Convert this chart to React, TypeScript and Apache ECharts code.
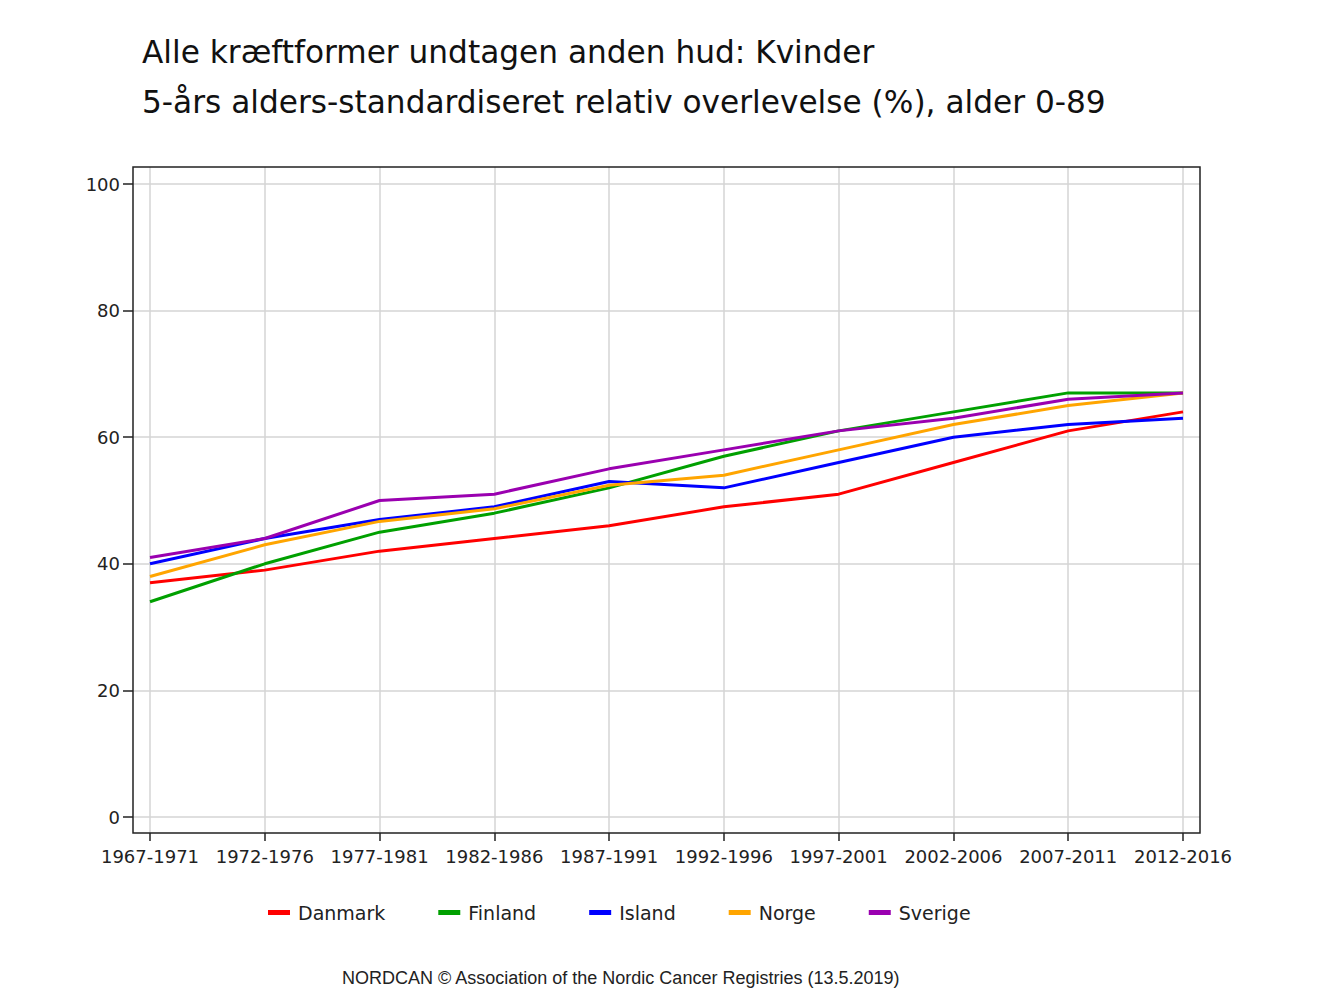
import React, { useEffect, useRef } from "react";
import * as echarts from "echarts";

const categories = [
  "1967-1971", "1972-1976", "1977-1981", "1982-1986", "1987-1991",
  "1992-1996", "1997-2001", "2002-2006", "2007-2011", "2012-2016",
];
const danmark = [37, 39, 42, 44, 46, 49, 51, 56, 61, 64];
const finland = [34, 40, 45, 48, 52, 57, 61, 64, 67, 67];
const island = [40, 44, 47, 49, 53, 52, 56, 60, 62, 63];
const norge = [38, 43, 46.7, 48.7, 52.4, 54, 58, 62, 65, 67];
const sverige = [41, 44, 50, 51, 55, 58, 61, 63, 66, 67];
const yTicks = { min: 0, max: 100, interval: 20 };

const seriesDefs = [
  { name: "Danmark", data: danmark, color: "#ff0000" },
  { name: "Finland", data: finland, color: "#00a000" },
  { name: "Island", data: island, color: "#0000ff" },
  { name: "Norge", data: norge, color: "#ffa500" },
  { name: "Sverige", data: sverige, color: "#9a00b0" },
];

const FONT = "DejaVu Sans";
const TXT = "#222";
const GRIDLINE = "#d4d4d4";

export default function App() {
  const ref = useRef<HTMLDivElement>(null);
  useEffect(() => {
    document.body.style.margin = "0";
    const chart = echarts.init(ref.current!, null, { renderer: "svg" });
    chart.setOption({
      animation: false,
      backgroundColor: "#fff",
      title: [
        {
          text:
            "Alle kræftformer undtagen anden hud: Kvinder\n5-års alders-standardiseret relativ overlevelse (%), alder 0-89",
          left: 137,
          top: 22,
          textStyle: {
            fontFamily: FONT,
            fontSize: 31.2,
            fontWeight: "normal",
            color: "#111",
            lineHeight: 50,
          },
        },
        {
          text: "NORDCAN © Association of the Nordic Cancer Registries (13.5.2019)",
          left: 337,
          top: 964,
          textStyle: {
            fontFamily: "Liberation Sans",
            fontSize: 18,
            fontWeight: "normal",
            color: TXT,
          },
        },
      ],
      legend: {
        left: 268,
        top: 903,
        padding: 0,
        itemWidth: 22,
        itemHeight: 5,
        itemGap: 53,
        icon: "rect",
        textStyle: { fontFamily: FONT, fontSize: 19, color: TXT, padding: [0, 0, 0, 3] },
        data: seriesDefs.map((s) => s.name),
      },
      grid: [
        // frame
        { left: 133, top: 167, width: 1067, height: 666, show: true, borderColor: "#222", borderWidth: 1.5, backgroundColor: "transparent", z: 5 },
        // x decoration (vertical lines, ticks, labels)
        { left: 150, right: 150, top: 167, bottom: 167 },
        // data
        { left: 150, right: 150, top: 184, bottom: 183 },
        // y decoration (horizontal lines, ticks, labels)
        { left: 133, right: 133, top: 184, bottom: 183 },
      ],
      xAxis: [
        { gridIndex: 0, type: "value", min: 0, max: 1, show: false },
        {
          gridIndex: 1,
          type: "category",
          data: categories,
          boundaryGap: false,
          axisLine: { show: false },
          axisTick: { show: true, length: 8, lineStyle: { color: "#222", width: 1.5 } },
          axisLabel: { fontFamily: FONT, fontSize: 18, color: TXT, margin: 14, interval: 0 },
          splitLine: { show: true, lineStyle: { color: GRIDLINE, width: 1.5 } },
        },
        { gridIndex: 2, type: "category", data: categories, boundaryGap: false, show: false },
        { gridIndex: 3, type: "value", min: 0, max: 1, show: false },
      ],
      yAxis: [
        { gridIndex: 0, type: "value", min: 0, max: 1, show: false },
        { gridIndex: 1, type: "value", min: 0, max: 1, show: false },
        { gridIndex: 2, type: "value", min: yTicks.min, max: yTicks.max, interval: yTicks.interval, show: false },
        {
          gridIndex: 3,
          type: "value",
          min: yTicks.min,
          max: yTicks.max,
          interval: yTicks.interval,
          axisLine: { show: false },
          axisTick: { show: true, length: 10, lineStyle: { color: "#222", width: 1.5 } },
          axisLabel: { fontFamily: FONT, fontSize: 18, color: TXT, margin: 13 },
          splitLine: { show: true, lineStyle: { color: GRIDLINE, width: 1.5 } },
        },
      ],
      series: seriesDefs.map((s) => ({
        name: s.name,
        type: "line",
        xAxisIndex: 2,
        yAxisIndex: 2,
        data: s.data,
        symbol: "none",
        color: s.color,
        lineStyle: { color: s.color, width: 3 },
        z: 3,
      })),
    });
    return () => chart.dispose();
  }, []);
  return <div ref={ref} style={{ width: 1333, height: 1000 }} />;
}
